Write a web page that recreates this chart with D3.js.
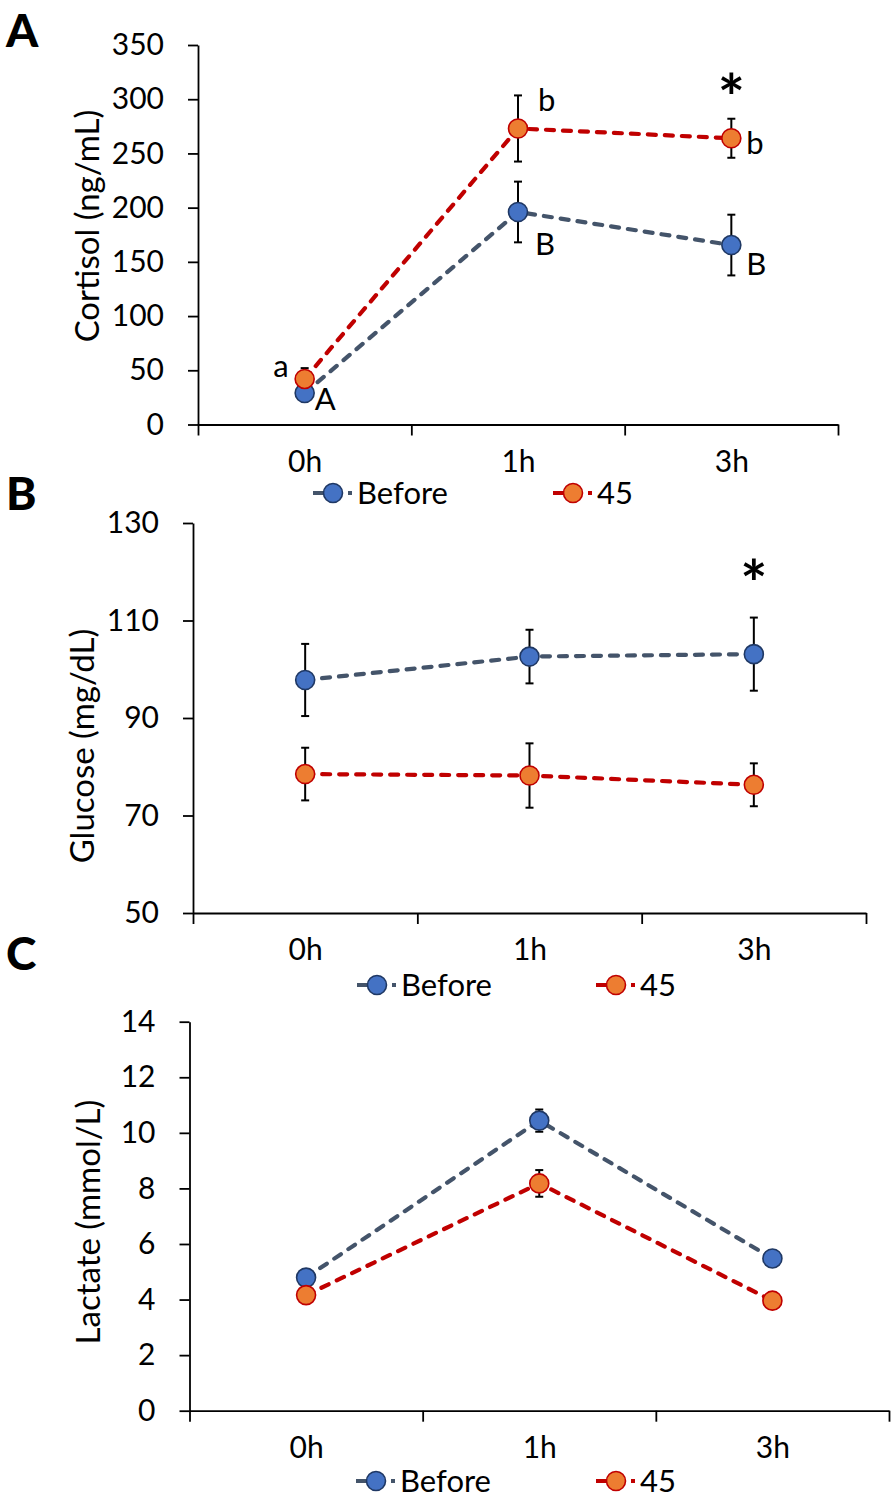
<!DOCTYPE html>
<html><head><meta charset="utf-8">
<script src="https://cdn.jsdelivr.net/npm/d3@7"></script>
<style>body{margin:0;background:#fff}svg{display:block}</style>
</head><body><div id="chart"></div>
<script>
// ---------- data ----------
const categories = ["0h", "1h", "3h"];
const seriesNames = ["Before", "45"];

const cortisolTicks = [0, 50, 100, 150, 200, 250, 300, 350];
const cortisolBefore = [29, 196, 165.5];
const cortisolBeforeErr = [4, 28, 28];
const cortisol45 = [42, 273, 264];
const cortisol45Err = [10, 30.5, 18];
const cortisolLettersBefore = ["A", "B", "B"];
const cortisolLetters45 = ["a", "b", "b"];
const cortisolSig = ["", "", "*"];

const glucoseTicks = [50, 70, 90, 110, 130];
const glucoseBefore = [97.8, 102.6, 103.1];
const glucoseBeforeErr = [7.4, 5.5, 7.5];
const glucose45 = [78.5, 78.2, 76.3];
const glucose45Err = [5.4, 6.6, 4.4];
const glucoseSig = ["", "", "*"];

const lactateTicks = [0, 2, 4, 6, 8, 10, 12, 14];
const lactateBefore = [4.79, 10.44, 5.48];
const lactateBeforeErr = [0.2, 0.4, 0.2];
const lactate45 = [4.16, 8.18, 3.96];
const lactate45Err = [0.2, 0.48, 0.15];
const lactateSig = ["", "", ""];

// ---------- styles ----------
const FONT = "Lato, 'Open Sans', sans-serif";
const colors = {
  lineBefore: "#44546A", line45: "#C00000",
  fillBefore: "#4472C4", strokeBefore: "#1F3864",
  fill45: "#ED7D31", stroke45: "#C00000"
};

const svg = d3.select("#chart").append("svg")
  .attr("width", 893).attr("height", 1498)
  .style("font-family", FONT);

const panels = [
  { letter: "A", letterY: 47, xL: 198, xR: 838, yTop: 45, yBot: 424.5, domain: [0, 350],
    ticks: cortisolTicks, title: "Cortisol (ng/mL)", titleX: 99, titleY: 226,
    before: cortisolBefore, beforeErr: cortisolBeforeErr, s45: cortisol45, s45Err: cortisol45Err,
    sig: cortisolSig, sigY: 86, legendY: 493, legendX: [333, 573],
    lettersBefore: cortisolLettersBefore, letters45: cortisolLetters45 },
  { letter: "B", letterY: 510, xL: 193, xR: 866, yTop: 523, yBot: 913, domain: [50, 130],
    ticks: glucoseTicks, title: "Glucose (mg/dL)", titleX: 94, titleY: 746,
    before: glucoseBefore, beforeErr: glucoseBeforeErr, s45: glucose45, s45Err: glucose45Err,
    sig: glucoseSig, sigY: 572, legendY: 985, legendX: [377, 616] },
  { letter: "C", letterY: 970, xL: 189.5, xR: 889, yTop: 1021.7, yBot: 1410.7, domain: [0, 14],
    ticks: lactateTicks, title: "Lactate (mmol/L)", titleX: 100, titleY: 1222,
    before: lactateBefore, beforeErr: lactateBeforeErr, s45: lactate45, s45Err: lactate45Err,
    sig: lactateSig, sigY: 0, legendY: 1481, legendX: [376, 616] }
];

// letter offsets relative to their data point (layout only)
const letterOffsetsBefore = [[10, 17, "start"], [17, 43, "start"], [15, 30, "start"]];
const letterOffsets45 = [[-16, -2, "end"], [20, -17, "start"], [15, 16, "start"]];

panels.forEach(p => {
  const g = svg.append("g");
  const x = d3.scalePoint().domain(categories).range([p.xL, p.xR]).padding(0.5);
  const xEdges = d3.scaleLinear().domain([0, 3]).range([p.xL, p.xR]);
  const y = d3.scaleLinear().domain(p.domain).range([p.yBot, p.yTop]);

  // panel letter
  g.append("text").attr("x", 6).attr("y", p.letterY)
    .attr("font-size", 46).attr("font-weight", 900).attr("fill", "#000").text(p.letter);

  // y axis
  const ya = g.append("g").attr("transform", `translate(${p.xL},0)`)
    .call(d3.axisLeft(y).tickValues(p.ticks).tickSize(10).tickSizeOuter(0).tickPadding(24).tickFormat(d3.format("d")));
  ya.selectAll("path,line").attr("stroke", "#000").attr("stroke-width", 1.8);
  ya.selectAll("text").attr("font-family", FONT).attr("font-size", 30).attr("fill", "#000");
  ya.attr("font-family", null).attr("font-size", null);

  // x axis with boundary ticks
  const xa = g.append("g").attr("transform", `translate(0,${p.yBot})`)
    .call(d3.axisBottom(xEdges).tickValues([0, 1, 2, 3]).tickSize(11).tickSizeOuter(0).tickFormat(""));
  xa.selectAll("path,line").attr("stroke", "#000").attr("stroke-width", 1.8);
  xa.attr("font-family", null);
  const xl = g.append("g").attr("transform", `translate(0,${p.yBot})`)
    .call(d3.axisBottom(x).tickSize(0).tickPadding(0));
  xl.select(".domain").remove();
  xl.selectAll("text").attr("y", 47).attr("dy", 0)
    .attr("font-family", FONT).attr("font-size", 30).attr("fill", "#000");
  xl.attr("font-family", null).attr("font-size", null);

  // y title
  g.append("text").attr("transform", `translate(${p.titleX},${p.titleY}) rotate(-90)`)
    .attr("text-anchor", "middle").attr("font-size", 33).attr("fill", "#000").text(p.title);

  const line = d3.line().x((d, i) => x(categories[i])).y(d => y(d));
  const series = [
    { vals: p.before, err: p.beforeErr, line: colors.lineBefore, fill: colors.fillBefore, stroke: colors.strokeBefore },
    { vals: p.s45, err: p.s45Err, line: colors.line45, fill: colors.fill45, stroke: colors.stroke45 }
  ];

  series.forEach(s => {
    g.append("path").datum(s.vals).attr("d", line).attr("fill", "none")
      .attr("stroke", s.line).attr("stroke-width", 4.2).attr("stroke-dasharray", "8,9")
      .attr("stroke-linecap", "round");
  });
  // error bars
  series.forEach(s => {
    s.vals.forEach((v, i) => {
      const cx = x(categories[i]);
      const eb = g.append("g").attr("stroke", "#000").attr("stroke-width", 2);
      eb.append("line").attr("x1", cx).attr("x2", cx).attr("y1", y(v - s.err[i])).attr("y2", y(v + s.err[i]));
      [v - s.err[i], v + s.err[i]].forEach(e =>
        eb.append("line").attr("x1", cx - 4).attr("x2", cx + 4).attr("y1", y(e)).attr("y2", y(e)));
    });
  });
  // markers
  series.forEach(s => {
    g.selectAll(null).data(s.vals).enter().append("circle")
      .attr("cx", (d, i) => x(categories[i])).attr("cy", d => y(d)).attr("r", 9.5)
      .attr("fill", s.fill).attr("stroke", s.stroke).attr("stroke-width", 1.6);
  });

  // letters
  if (p.lettersBefore) {
    p.lettersBefore.forEach((t, i) => {
      const o = letterOffsetsBefore[i];
      g.append("text").attr("x", x(categories[i]) + o[0]).attr("y", y(p.before[i]) + o[1])
        .attr("text-anchor", o[2]).attr("font-size", 31).attr("fill", "#000").text(t);
    });
    p.letters45.forEach((t, i) => {
      const o = letterOffsets45[i];
      g.append("text").attr("x", x(categories[i]) + o[0]).attr("y", y(p.s45[i]) + o[1])
        .attr("text-anchor", o[2]).attr("font-size", 31).attr("fill", "#000").text(t);
    });
  }
  // significance
  p.sig.forEach((t, i) => {
    if (!t) return;
    g.append("text").attr("x", x(categories[i])).attr("y", p.sigY + 35)
      .attr("text-anchor", "middle").attr("font-size", 64).attr("font-weight", 700)
      .attr("fill", "#000").text(t);
  });

  // legend
  series.forEach((s, k) => {
    const mx = p.legendX[k], my = p.legendY;
    g.append("line").attr("x1", mx - 20).attr("x2", mx).attr("y1", my).attr("y2", my)
      .attr("stroke", s.line).attr("stroke-width", 4);
    g.append("line").attr("x1", mx + 15).attr("x2", mx + 19).attr("y1", my).attr("y2", my)
      .attr("stroke", s.line).attr("stroke-width", 4);
    g.append("circle").attr("cx", mx).attr("cy", my).attr("r", 9.5)
      .attr("fill", s.fill).attr("stroke", s.stroke).attr("stroke-width", 1.6);
    g.append("text").attr("x", mx + 24).attr("y", my + 11).attr("font-size", 31)
      .attr("fill", "#000").text(seriesNames[k]);
  });
});
</script>
</body></html>
